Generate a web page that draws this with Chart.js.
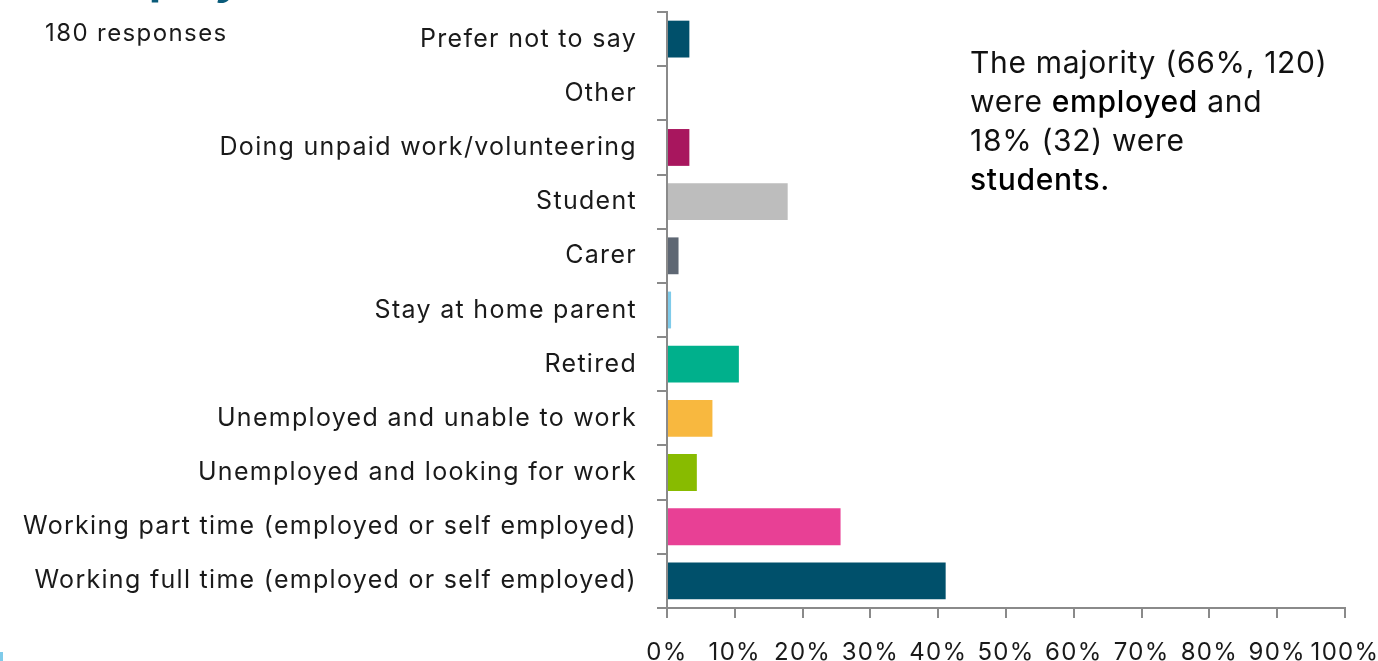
<!DOCTYPE html>
<html>
<head>
<meta charset="utf-8">
<script src="https://cdn.jsdelivr.net/npm/chart.js@4"></script>
<style>
  html, body { margin: 0; padding: 0; background: #fff; overflow: hidden; }
  body { width: 1378px; height: 661px; position: relative; font-family: Inter, sans-serif; }
  #wrap { position: absolute; left: 0; top: 0; width: 1378px; height: 661px; }
  #title { position: absolute; left: 82px; top: -44px; font-size: 44px; line-height: 44px; font-weight: 700; color: #0a5b7a; white-space: nowrap; }
  #count { position: absolute; left: 45px; top: 18px; font-size: 24px; line-height: 30px; color: #1a1a1a; letter-spacing: 1.4px; }
  #note { position: absolute; left: 970px; top: 43px; font-size: 30px; line-height: 39px; color: #111; letter-spacing: 0.7px; }
  #note b { font-weight: 500; color: #000; }
  #mark { position: absolute; left: 0; top: 652px; width: 3px; height: 9px; background: #7fcbea; }
</style>
</head>
<body>
<div id="wrap"><canvas id="myChart" width="1378" height="661"></canvas></div>
<div id="title">Employment</div>
<div id="count">180 responses</div>
<div id="note">The majority (66%, 120)<br>were <b>employed</b> and<br>18% (32) were<br><b>students.</b></div>
<div id="mark"></div>
<script>
const categories = [
  "Prefer not to say",
  "Other",
  "Doing unpaid work/volunteering",
  "Student",
  "Carer",
  "Stay at home parent",
  "Retired",
  "Unemployed and unable to work",
  "Unemployed and looking for work",
  "Working part time (employed or self employed)",
  "Working full time (employed or self employed)",
];
const percents = [3.3, 0, 3.3, 17.8, 1.7, 0.6, 10.6, 6.7, 4.4, 25.6, 41.1];
const barColors = [
  "#00506b", "#cccccc", "#a8165e", "#bdbdbd", "#5e6773", "#7fcbea",
  "#00b08c", "#f8b83f", "#88bb00", "#e84095", "#00506b",
];
const xTicks = [0, 10, 20, 30, 40, 50, 60, 70, 80, 90, 100];

const axisGrey = "#8a8a8a";
const ctx = document.getElementById("myChart").getContext("2d");

// wider lettering, closer to the original typeface
const spacing = {
  id: "spacing",
  beforeDraw(chart) {
    chart.ctx.letterSpacing = "1.3px";
  },
};

new Chart(ctx, {
  type: "bar",
  data: {
    labels: categories,
    datasets: [
      {
        data: percents,
        backgroundColor: barColors,
        barPercentage: 0.68,
        categoryPercentage: 1,
      },
    ],
  },
  plugins: [spacing],
  options: {
    indexAxis: "y",
    responsive: false,
    animation: false,
    layout: { padding: { top: 12, right: 33, left: 0, bottom: 0 } },
    plugins: { legend: { display: false }, tooltip: { enabled: false } },
    scales: {
      x: {
        min: 0,
        max: 100,
        afterBuildTicks: (scale) => {
          scale.ticks = xTicks.map((v) => ({ value: v }));
        },
        afterFit: (scale) => {
          scale.height = 53;
          scale.paddingLeft = 0;
          scale.paddingRight = 0;
        },
        border: { color: axisGrey, width: 2 },
        grid: {
          drawOnChartArea: false,
          drawTicks: true,
          tickLength: 10,
          tickColor: axisGrey,
          lineWidth: 2,
        },
        ticks: {
          padding: 20,
          color: "#1a1a1a",
          font: { family: "Inter", size: 24 },
          maxRotation: 0,
          autoSkip: false,
          callback: (v) => v + "%",
        },
      },
      y: {
        afterFit: (scale) => {
          scale.width = 667;
          scale.paddingTop = 0;
          scale.paddingBottom = 0;
        },
        border: { color: axisGrey, width: 2 },
        grid: {
          drawOnChartArea: false,
          drawTicks: true,
          tickLength: 10,
          tickColor: axisGrey,
          lineWidth: 2,
        },
        ticks: {
          padding: 20,
          color: "#1a1a1a",
          font: { family: "Inter", size: 25 },
          autoSkip: false,
        },
      },
    },
  },
});
</script>
</body>
</html>
